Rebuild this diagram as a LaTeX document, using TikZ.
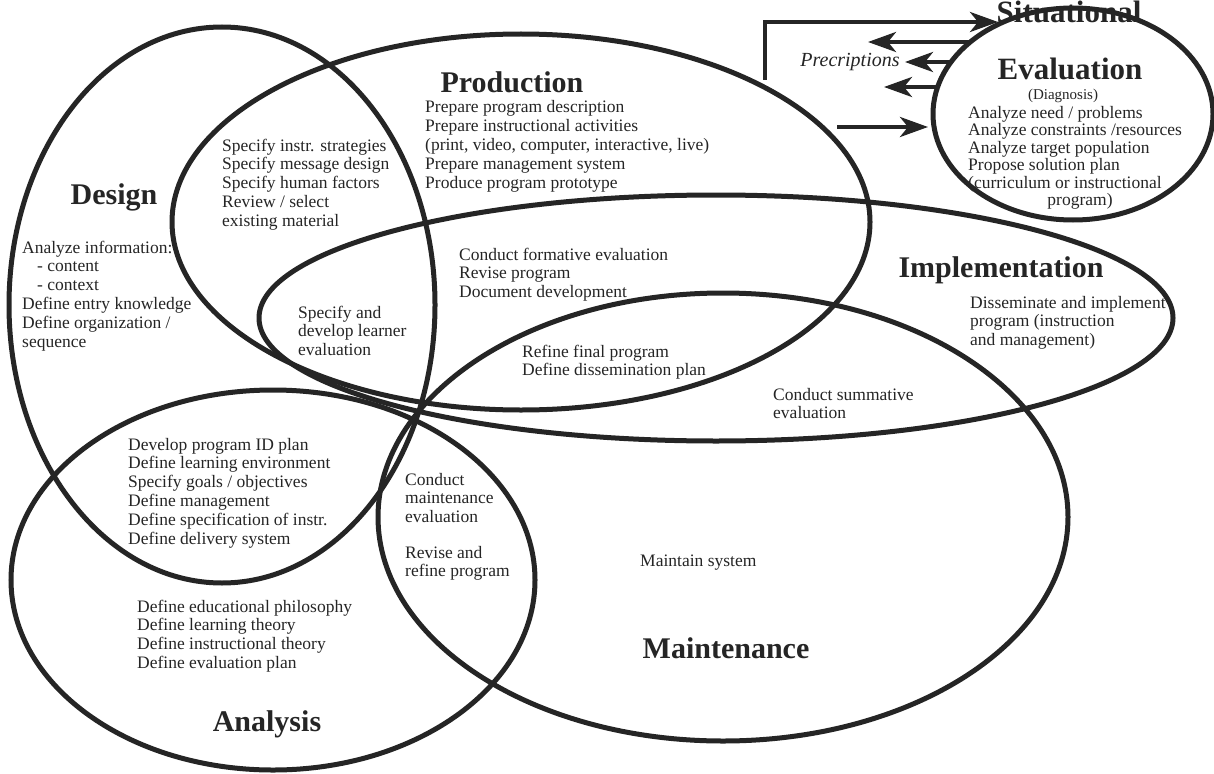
\documentclass[tikz,border=0pt]{standalone}
\usepackage{fontspec}
\setmainfont{Liberation Serif}
\usetikzlibrary{shapes.geometric,arrows.meta}
\definecolor{ink}{HTML}{252525}
\newcommand\blk[1]{\begin{tabular}[t]{@{}l@{}}#1\end{tabular}}
\tikzset{
  venn/.style={draw=ink, line width=5pt, ellipse, inner sep=0pt},
  body/.style={font=\fontsize{17.5}{18.8}\selectfont, text=ink, inner sep=0pt, anchor=base west},
  sbody/.style={font=\fontsize{17.5}{17.5}\selectfont, text=ink, inner sep=0pt, anchor=base west},
  ttl/.style={font=\bfseries\fontsize{30}{32}\selectfont, text=ink, inner sep=0pt, anchor=base},
  arr/.style={draw=ink, line width=4pt, -{Stealth[length=28pt,width=20pt,inset=8pt]}},
}
\begin{document}
\begin{tikzpicture}[x=1pt,y=-1pt]
\useasboundingbox (0,0) rectangle (1214,773);
\fill[white] (0,0) rectangle (1214,773);

% ---------- texts ----------
\node[ttl] (tdesign) at (114,204) {Design};
\node[body] (d1) at (222,151) {\blk{Specify instr. strategies\\Specify message design\\Specify human factors\\Review / select\\existing material}};
\node[body] (d2) at (22,253) {\blk{Analyze information:\\\hspace*{15pt}- content\\\hspace*{15pt}- context\\Define entry knowledge\\Define organization /\\sequence}};
\node[body] (d3) at (298,318) {\blk{Specify and\\develop learner\\evaluation}};

\node[ttl] (tprod) at (512,93) {Production};
\node[body] (p1) at (425,113) {\blk{Prepare program description\\Prepare instructional activities\\(print, video, computer, interactive, live)\\Prepare management system\\Produce program prototype}};
\node[body] (p2) at (459,260) {\blk{Conduct formative evaluation\\Revise program\\Document development}};
\node[body] (p3) at (522,357) {\blk{Refine final program\\Define dissemination plan}};

\node[ttl] (timpl) at (1001,277) {Implementation};
\node[body] (i1) at (970,308) {\blk{Disseminate and implement\\program (instruction\\and management)}};
\node[body] (m1) at (773,400) {\blk{Conduct summative\\evaluation}};

\node[body] (m2) at (640,566) {Maintain system};
\node[ttl] (tmaint) at (726,658) {Maintenance};
\node[body] (m3) at (405,485) {\blk{Conduct\\maintenance\\evaluation}};
\node[body] (m4) at (405,558) {\blk{Revise and\\refine program}};

\node[body] (a1) at (128,450) {\blk{Develop program ID plan\\Define learning environment\\Specify goals / objectives\\Define management\\Define specification of instr.\\Define delivery system}};
\node[body] (a2) at (137,612) {\blk{Define educational philosophy\\Define learning theory\\Define instructional theory\\Define evaluation plan}};
\node[ttl] (tanal) at (267,731) {Analysis};

\node[ttl, font=\bfseries\fontsize{31}{33}\selectfont] (tsit1) at (1069,23) {Situational};
\node[ttl, font=\bfseries\fontsize{31}{33}\selectfont] (tsit2) at (1070,80) {Evaluation};
\node[ttl, font=\fontsize{15}{15}\selectfont] (tdiag) at (1063,100) {(Diagnosis)};
\node[sbody] (s1) at (968,118) {\blk{Analyze need / problems\\Analyze constraints /resources\\Analyze target population\\Propose solution plan\\(curriculum or instructional}};
\node[ttl, font=\fontsize{17.5}{17.5}\selectfont] (s2) at (1080,205) {program)};
\node[ttl, font=\itshape\fontsize{20}{22}\selectfont] (presc) at (850,67) {Precriptions};

% ---------- ellipses ----------
\node[venn, minimum width=426pt, minimum height=556pt] (design) at (222,305) {};
\node[venn, minimum width=698pt, minimum height=376pt] (production) at (521,222) {};
\node[venn, minimum width=914pt, minimum height=246pt] (implementation) at (716,318) {};
\node[venn, minimum width=690pt, minimum height=448pt] (maintenance) at (723,517) {};
\node[venn, minimum width=524pt, minimum height=380pt] (analysis) at (273,580) {};
\node[venn, minimum width=280pt, minimum height=212pt] (situational) at (1073,114) {};

% ---------- arrows ----------
\coordinate (t0) at (765,80);
\coordinate (t1) at (998,22);
\coordinate (b1s) at (970,42);  \coordinate (b1e) at (868,42);
\coordinate (b2s) at (950,62);  \coordinate (b2e) at (905,62);
\coordinate (b3s) at (937,87);  \coordinate (b3e) at (884,87);
\coordinate (b4s) at (837,127); \coordinate (b4e) at (928,127);
\draw[arr] (t0) |- (t1);
\draw[arr] (b1s) -- (b1e);
\draw[arr] (b2s) -- (b2e);
\draw[arr] (b3s) -- (b3e);
\draw[arr] (b4s) -- (b4e);
\end{tikzpicture}
\end{document}
